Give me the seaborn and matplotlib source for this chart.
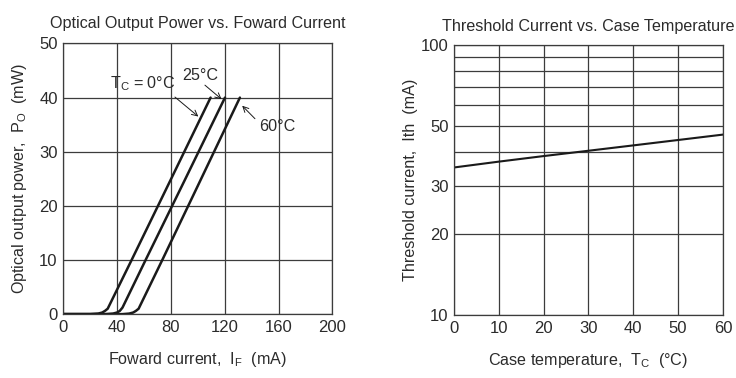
import numpy as np
import pandas as pd
import matplotlib
matplotlib.use("Agg")
import matplotlib.pyplot as plt
import seaborn as sns
from matplotlib.ticker import FixedLocator, NullFormatter

# curves (forward current mA -> output power mW)
i_0c = [0, 20, 26, 29, 31, 33, 50.8, 80, 109.5]
p_0c = [0, 0, 0.1, 0.3, 0.6, 1.0, 10, 24.9, 40]
i_25c = [0, 32, 37, 40, 42, 44, 61.2, 90, 120.2]
p_25c = [0, 0, 0.1, 0.3, 0.6, 1.2, 10, 24.6, 40]
i_60c = [0, 44, 49, 52, 54, 56, 73.6, 100, 131.3]
p_60c = [0, 0, 0.1, 0.3, 0.6, 1.0, 10, 23.7, 40]

# threshold current vs case temperature
temp_c = [0, 10, 20, 30, 40, 50, 60]
ith_ma = [35.2, 37.0, 38.8, 40.6, 42.5, 44.5, 46.6]

sns.set_style("white")
plt.rcParams["font.family"] = ["Liberation Sans", "DejaVu Sans"]
plt.rcParams["mathtext.default"] = "regular"

ink = "#2b2b2b"
grid_c = "#3c3c3c"
fs = 11.6

df_pow = pd.concat([
    pd.DataFrame({"current": i_0c, "power": p_0c, "tc": "0"}),
    pd.DataFrame({"current": i_25c, "power": p_25c, "tc": "25"}),
    pd.DataFrame({"current": i_60c, "power": p_60c, "tc": "60"}),
])
df_ith = pd.DataFrame({"temp": temp_c, "ith": ith_ma})

fig = plt.figure(figsize=(7.36, 3.78), dpi=100)
ax1 = fig.add_axes([0.086, 0.169, 0.3655, 0.716])
ax2 = fig.add_axes([0.6168, 0.1667, 0.3655, 0.714])

# left chart
sns.lineplot(data=df_pow, x="current", y="power", units="tc", estimator=None,
             color="#1a1a1a", lw=1.8, ax=ax1, legend=False)
ax1.set_xlim(0, 200)
ax1.set_ylim(0, 50)
ax1.set_xticks([0, 40, 80, 120, 160, 200])
ax1.set_yticks([0, 10, 20, 30, 40, 50])
ax1.grid(True, color=grid_c, lw=0.9)
ax1.set_title("Optical Output Power vs. Foward Current", fontsize=fs, color=ink, pad=11)
ax1.set_xlabel("Foward current,  $I_F$  (mA)", fontsize=fs, color=ink, labelpad=11)
ax1.set_ylabel("Optical output power,  $P_O$  (mW)", fontsize=fs, color=ink, labelpad=7)

arrow = dict(arrowstyle="->", color="#1a1a1a", lw=0.7, shrinkA=0, shrinkB=0)
ax1.annotate("", xy=(100.4, 36.5), xytext=(83, 40.1), arrowprops=arrow)
ax1.annotate("", xy=(117.7, 39.7), xytext=(105.3, 42.3), arrowprops=arrow)
ax1.annotate("", xy=(133, 38.5), xytext=(142.5, 36.1), arrowprops=arrow)
ax1.text(59, 42.6, "$T_C$ = 0°C", ha="center", va="center", fontsize=fs, color=ink)
ax1.text(102, 44.0, "25°C", ha="center", va="center", fontsize=fs, color=ink)
ax1.text(159, 34.7, "60°C", ha="center", va="center", fontsize=fs, color=ink)

# right chart
sns.lineplot(data=df_ith, x="temp", y="ith", color="#1a1a1a", lw=1.5, ax=ax2)
ax2.set_yscale("log")
ax2.set_xlim(0, 60)
ax2.set_ylim(10, 100)
ax2.set_xticks([0, 10, 20, 30, 40, 50, 60])
ax2.yaxis.set_major_locator(FixedLocator([10, 20, 30, 50, 100]))
ax2.set_yticklabels(["10", "20", "30", "50", "100"])
ax2.yaxis.set_minor_locator(FixedLocator([40, 60, 70, 80, 90]))
ax2.yaxis.set_minor_formatter(NullFormatter())
ax2.grid(True, which="both", color=grid_c, lw=0.9)
ax2.set_title("Threshold Current vs. Case Temperature", fontsize=fs, color=ink, pad=10)
ax2.set_xlabel("Case temperature,  $T_C$  (°C)", fontsize=fs, color=ink, labelpad=11)
ax2.set_ylabel("Threshold current,  Ith  (mA)", fontsize=fs, color=ink, labelpad=2)

for ax in (ax1, ax2):
    ax.tick_params(which="both", length=0, labelsize=fs + 0.4, colors=ink, pad=4)
    for s in ax.spines.values():
        s.set_color(grid_c)
        s.set_linewidth(0.9)

fig.savefig("out.png", dpi=100, facecolor="white")
